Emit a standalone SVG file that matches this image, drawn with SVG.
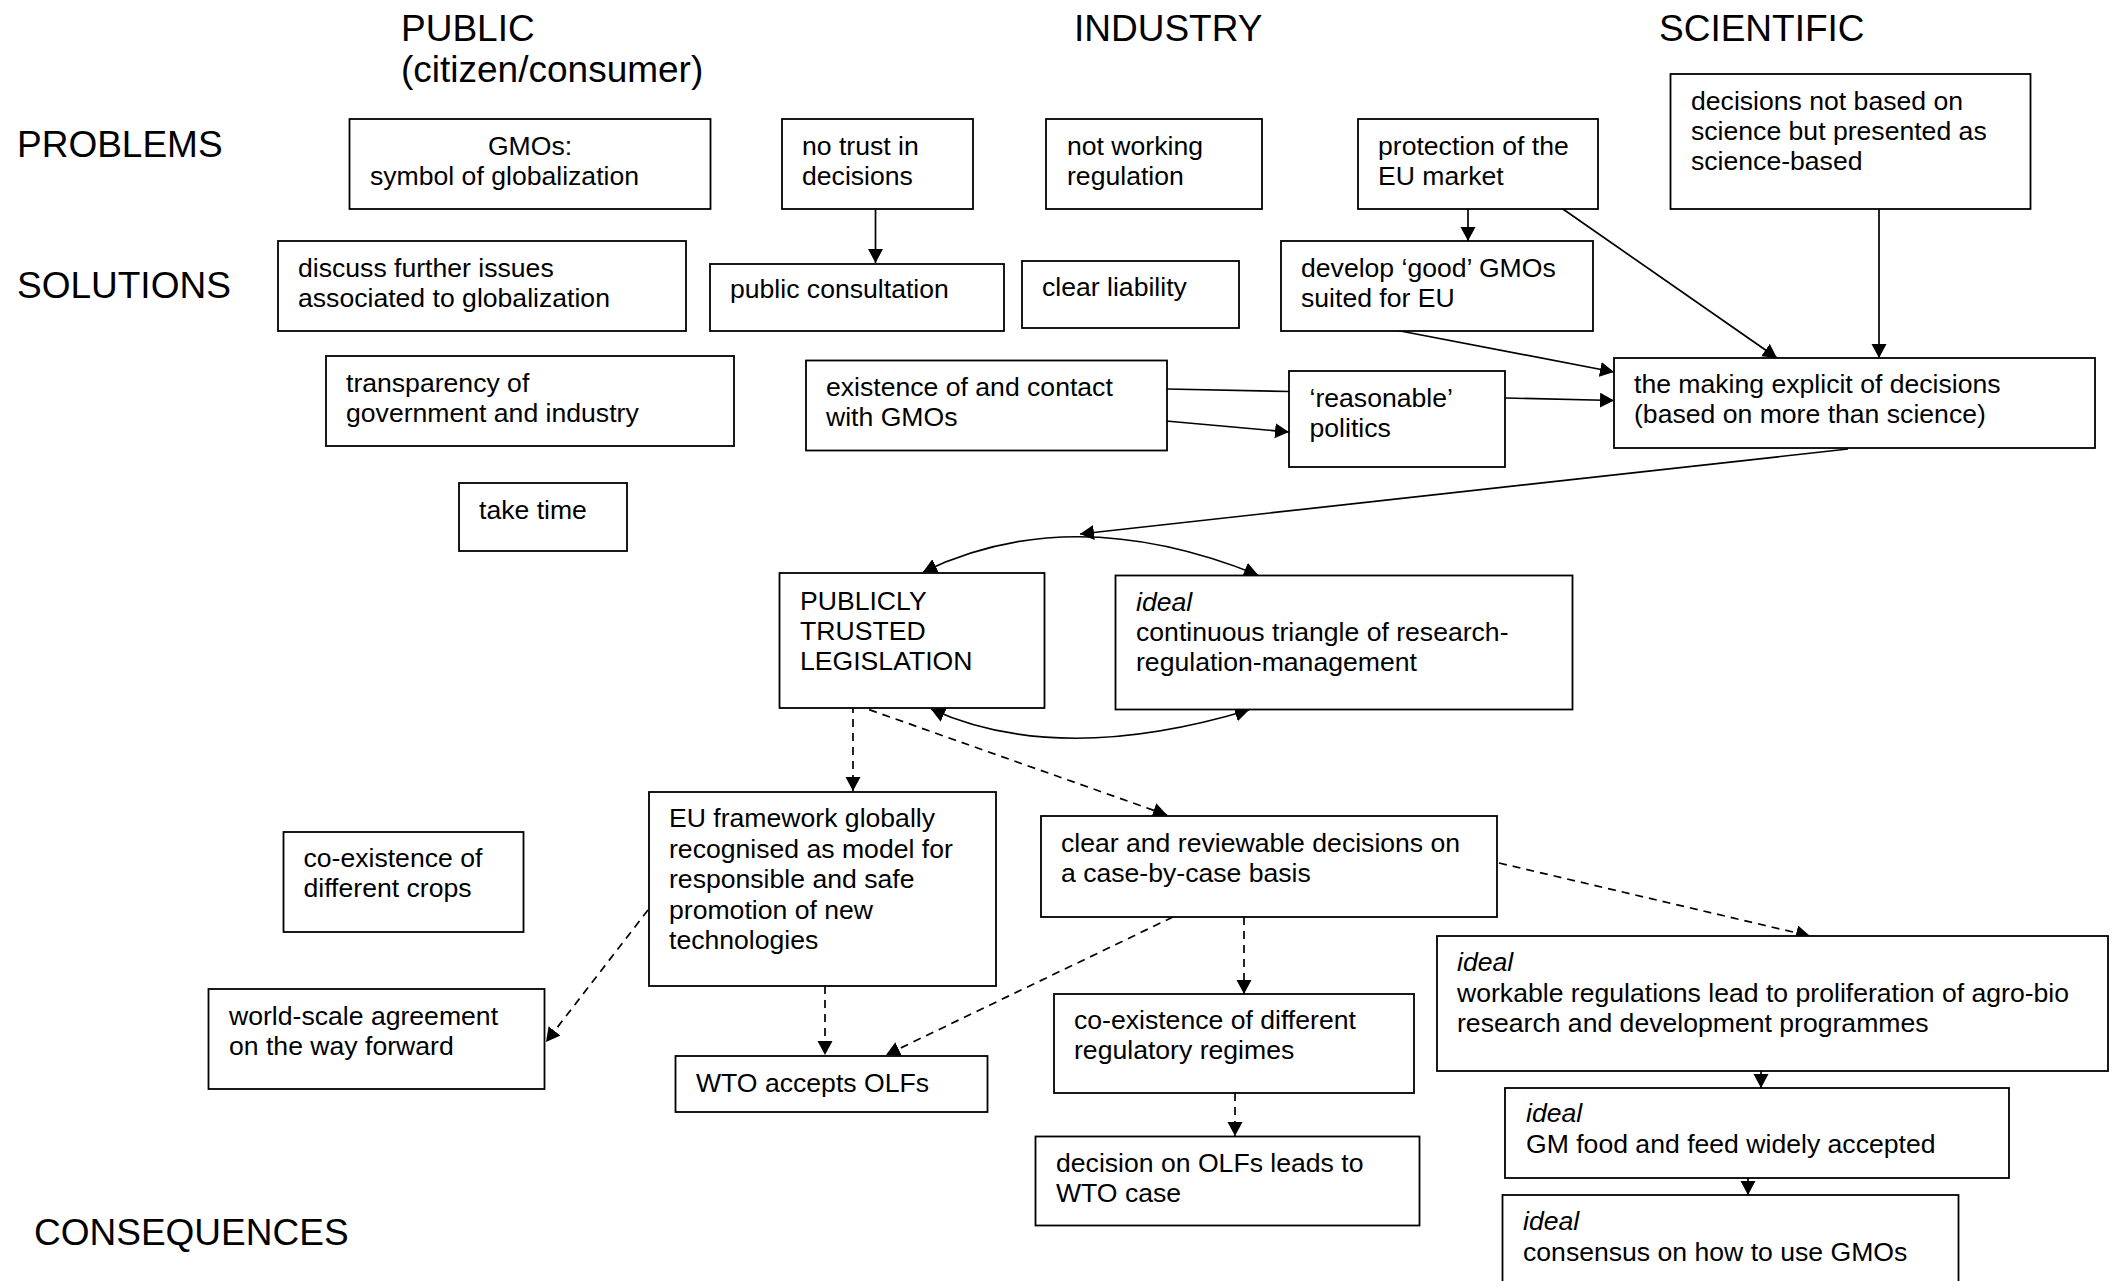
<svg xmlns="http://www.w3.org/2000/svg" width="2114" height="1281" viewBox="0 0 2114 1281">
<style>
.bx{fill:#fff;stroke:#000;stroke-width:1.8}
.t{font-family:"Liberation Sans",Arial,sans-serif;font-size:26.6px;fill:#000}
.h{font-family:"Liberation Sans",Arial,sans-serif;font-size:37px;fill:#000}
.i{font-style:italic}
.c{fill:none;stroke:#000;stroke-width:1.7}
.d{fill:none;stroke:#000;stroke-width:1.7;stroke-dasharray:8 6}
</style>
<defs>
<marker id="ah" markerUnits="userSpaceOnUse" markerWidth="15" markerHeight="16" refX="14" refY="7.5" orient="auto-start-reverse" viewBox="0 0 15 16">
<path d="M0,0 L14,7.5 L0,15 z" fill="#000"/>
</marker>
</defs>
<rect width="2114" height="1281" fill="#fff"/>

<g id="headers">
<text class="h" x="401" y="41">PUBLIC</text>
<text class="h" x="401" y="82">(citizen/consumer)</text>
<text class="h" x="1074" y="41">INDUSTRY</text>
<text class="h" x="1659" y="41">SCIENTIFIC</text>
<text class="h" x="17" y="157">PROBLEMS</text>
<text class="h" x="17" y="298">SOLUTIONS</text>
<text class="h" x="34" y="1245">CONSEQUENCES</text>
</g>

<g id="connectors">
<line class="c" x1="875.5" y1="209" x2="875.5" y2="263" marker-end="url(#ah)"/>
<line class="c" x1="1468" y1="209" x2="1468" y2="241" marker-end="url(#ah)"/>
<line class="c" x1="1560" y1="207" x2="1777" y2="358" marker-end="url(#ah)"/>
<line class="c" x1="1879" y1="207" x2="1879" y2="358" marker-end="url(#ah)"/>
<line class="c" x1="1390" y1="329" x2="1614" y2="372" marker-end="url(#ah)"/>
<line class="c" x1="1167" y1="389" x2="1289" y2="391.5"/>
<line class="c" x1="1166" y1="421" x2="1289" y2="432" marker-end="url(#ah)"/>
<line class="c" x1="1505" y1="398" x2="1614" y2="400.5" marker-end="url(#ah)"/>
<line class="c" x1="1848" y1="449" x2="1080" y2="534" marker-end="url(#ah)"/>
<path class="c" d="M923,572 Q1072,500 1258,575" marker-start="url(#ah)" marker-end="url(#ah)"/>
<path class="c" d="M931,709 Q1058,767 1249,710" marker-start="url(#ah)" marker-end="url(#ah)"/>
<line class="d" x1="853" y1="705" x2="853" y2="791" marker-end="url(#ah)"/>
<line class="d" x1="856" y1="705" x2="1167" y2="815" marker-end="url(#ah)"/>
<line class="d" x1="648" y1="910" x2="546" y2="1042" marker-end="url(#ah)"/>
<line class="d" x1="825" y1="986" x2="825" y2="1055" marker-end="url(#ah)"/>
<line class="d" x1="1173" y1="917" x2="886" y2="1055" marker-end="url(#ah)"/>
<line class="d" x1="1244" y1="917" x2="1244" y2="994" marker-end="url(#ah)"/>
<line class="d" x1="1235" y1="1093" x2="1235" y2="1136" marker-end="url(#ah)"/>
<line class="d" x1="1499" y1="863" x2="1810" y2="936" marker-end="url(#ah)"/>
<line class="c" x1="1761" y1="1068" x2="1761" y2="1088" marker-end="url(#ah)"/>
<line class="c" x1="1748" y1="1176" x2="1748" y2="1195" marker-end="url(#ah)"/>
</g>

<g id="n-gmos"><rect class="bx" x="349.5" y="119" width="361" height="90"/>
<text class="t" x="530" y="154.5" text-anchor="middle">GMOs:</text>
<text class="t" x="370" y="184.5">symbol of globalization</text></g>

<g id="n-notrust"><rect class="bx" x="782" y="119" width="191" height="90"/>
<text class="t" x="802" y="154.5">no trust in</text>
<text class="t" x="802" y="184.5">decisions</text></g>

<g id="n-notworking"><rect class="bx" x="1046" y="119" width="216" height="90"/>
<text class="t" x="1067" y="154.5">not working</text>
<text class="t" x="1067" y="184.5">regulation</text></g>

<g id="n-protection"><rect class="bx" x="1358" y="119" width="240" height="90"/>
<text class="t" x="1378" y="154.5">protection of the</text>
<text class="t" x="1378" y="184.5">EU market</text></g>

<g id="n-notscience"><rect class="bx" x="1670.5" y="74" width="360" height="135"/>
<text class="t" x="1691" y="110">decisions not based on</text>
<text class="t" x="1691" y="140">science but presented as</text>
<text class="t" x="1691" y="170">science-based</text></g>

<g id="n-discuss"><rect class="bx" x="278" y="241" width="408" height="90"/>
<text class="t" x="298" y="277">discuss further issues</text>
<text class="t" x="298" y="307">associated to globalization</text></g>

<g id="n-consultation"><rect class="bx" x="710" y="264" width="294" height="67"/>
<text class="t" x="730" y="298">public consultation</text></g>

<g id="n-liability"><rect class="bx" x="1022" y="261" width="217" height="67"/>
<text class="t" x="1042" y="296">clear liability</text></g>

<g id="n-develop"><rect class="bx" x="1281" y="241" width="312" height="90"/>
<text class="t" x="1301" y="277">develop ‘good’ GMOs</text>
<text class="t" x="1301" y="307">suited for EU</text></g>

<g id="n-transparency"><rect class="bx" x="326" y="356" width="408" height="90"/>
<text class="t" x="346" y="391.5">transparency of</text>
<text class="t" x="346" y="421.5">government and industry</text></g>

<g id="n-existence"><rect class="bx" x="806" y="360.5" width="361" height="90"/>
<text class="t" x="826" y="396">existence of and contact</text>
<text class="t" x="826" y="426">with GMOs</text></g>

<g id="n-reasonable"><rect class="bx" x="1289" y="371" width="216" height="96"/>
<text class="t" x="1309.5" y="407">‘reasonable’</text>
<text class="t" x="1309.5" y="437">politics</text></g>

<g id="n-explicit"><rect class="bx" x="1614" y="358" width="481" height="90"/>
<text class="t" x="1634" y="393">the making explicit of decisions</text>
<text class="t" x="1634" y="423">(based on more than science)</text></g>

<g id="n-taketime"><rect class="bx" x="459" y="483" width="168" height="68"/>
<text class="t" x="479" y="519">take time</text></g>

<g id="n-legislation"><rect class="bx" x="779.5" y="573" width="265" height="135"/>
<text class="t" x="800" y="610">PUBLICLY</text>
<text class="t" x="800" y="640">TRUSTED</text>
<text class="t" x="800" y="670">LEGISLATION</text></g>

<g id="n-triangle"><rect class="bx" x="1115.5" y="575.5" width="457" height="134"/>
<text class="t i" x="1136" y="611">ideal</text>
<text class="t" x="1136" y="641">continuous triangle of research-</text>
<text class="t" x="1136" y="671">regulation-management</text></g>

<g id="n-crops"><rect class="bx" x="283.5" y="832" width="240" height="100"/>
<text class="t" x="303.5" y="867">co-existence of</text>
<text class="t" x="303.5" y="897">different crops</text></g>

<g id="n-framework"><rect class="bx" x="649" y="792" width="347" height="194"/>
<text class="t" x="669" y="827">EU framework globally</text>
<text class="t" x="669" y="857.5">recognised as model for</text>
<text class="t" x="669" y="888">responsible and safe</text>
<text class="t" x="669" y="918.5">promotion of new</text>
<text class="t" x="669" y="949">technologies</text></g>

<g id="n-casebycase"><rect class="bx" x="1041" y="816" width="456" height="101"/>
<text class="t" x="1061" y="852">clear and reviewable decisions on</text>
<text class="t" x="1061" y="882">a case-by-case basis</text></g>

<g id="n-worldscale"><rect class="bx" x="208.5" y="989" width="336" height="100"/>
<text class="t" x="229" y="1024.5">world-scale agreement</text>
<text class="t" x="229" y="1054.5">on the way forward</text></g>

<g id="n-wto"><rect class="bx" x="675.5" y="1056" width="312" height="56"/>
<text class="t" x="696" y="1092">WTO accepts OLFs</text></g>

<g id="n-regimes"><rect class="bx" x="1054" y="994" width="360" height="99"/>
<text class="t" x="1074" y="1029">co-existence of different</text>
<text class="t" x="1074" y="1059">regulatory regimes</text></g>

<g id="n-olfcase"><rect class="bx" x="1035.5" y="1136.5" width="384" height="89"/>
<text class="t" x="1056" y="1172">decision on OLFs leads to</text>
<text class="t" x="1056" y="1202">WTO case</text></g>

<g id="n-workable"><rect class="bx" x="1437" y="936" width="671" height="135"/>
<text class="t i" x="1457" y="971">ideal</text>
<text class="t" x="1457" y="1001.5">workable regulations lead to proliferation of agro-bio</text>
<text class="t" x="1457" y="1032">research and development programmes</text></g>

<g id="n-gmfood"><rect class="bx" x="1505" y="1088" width="504" height="90"/>
<text class="t i" x="1526" y="1122">ideal</text>
<text class="t" x="1526" y="1153">GM food and feed widely accepted</text></g>

<g id="n-consensus"><rect class="bx" x="1502.5" y="1195" width="456" height="100"/>
<text class="t i" x="1523" y="1230">ideal</text>
<text class="t" x="1523" y="1261">consensus on how to use GMOs</text></g>
</svg>
